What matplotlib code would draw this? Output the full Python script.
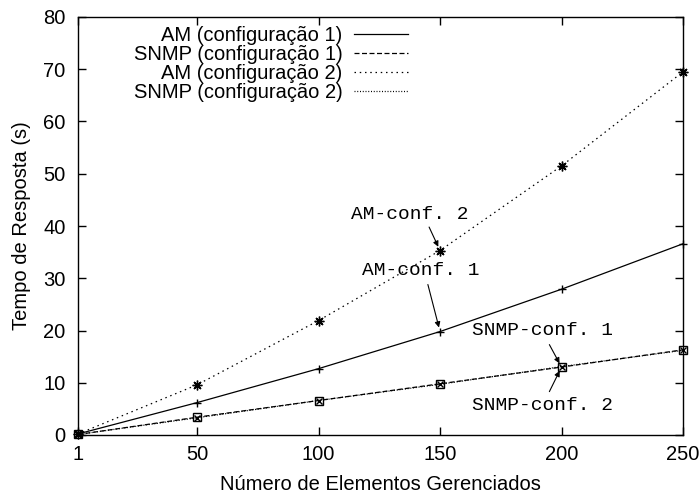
import matplotlib
matplotlib.use("Agg")
import matplotlib.pyplot as plt

plt.rcParams['font.family'] = ['Liberation Sans', 'DejaVu Sans']

elementos = [1, 50, 100, 150, 200, 250]
am_conf1 = [0.2, 6.2, 12.7, 19.8, 27.9, 36.6]
snmp_conf1 = [0.1, 3.4, 6.6, 9.8, 13.0, 16.3]
am_conf2 = [0.2, 9.6, 21.9, 35.3, 51.5, 69.5]
snmp_conf2 = [0.1, 3.3, 6.6, 9.7, 13.1, 16.2]

x_ticks = [1, 50, 100, 150, 200, 250]
y_ticks = [0, 10, 20, 30, 40, 50, 60, 70, 80]

fig = plt.figure(figsize=(7.0, 4.95), dpi=100)
ax = fig.add_axes([78 / 700, 1 - 435 / 495, 605 / 700, 418 / 495])

lw = 0.9
mk = dict(ls='none', color='black', clip_on=False, zorder=3)
l1, = ax.plot(elementos, am_conf1, color='black', lw=lw, ls='-')
ax.plot(elementos, am_conf1, marker='+', ms=6, mew=1.0, **mk)
l2, = ax.plot(elementos, snmp_conf1, color='black', lw=lw, ls=(0, (4, 2)))
ax.plot(elementos, snmp_conf1, marker='s', ms=6, mew=1.0, mfc='none', **mk)
l3, = ax.plot(elementos, am_conf2, color='black', lw=lw, ls=(0, (1.2, 3)))
ax.plot(elementos, am_conf2, marker=(8, 2, 0), ms=7, mew=1.0, **mk)
l4, = ax.plot(elementos, snmp_conf2, color='black', lw=lw, ls=(0, (0.8, 1.4)))
ax.plot(elementos, snmp_conf2, marker='x', ms=5, mew=1.0, **mk)

ax.set_xlim(1, 250)
ax.set_ylim(0, 80)
ax.set_xticks(x_ticks)
ax.set_yticks(y_ticks)
ax.tick_params(direction='in', length=6, width=1, top=True, right=True,
               labelsize=14.5)
ax.tick_params(axis='x', pad=7)
ax.tick_params(axis='y', pad=9)
for s in ax.spines.values():
    s.set_linewidth(1.0)

ax.set_xlabel('Número de Elementos Gerenciados', fontsize=14.5, labelpad=8)
ax.set_ylabel('Tempo de Resposta (s)', fontsize=14.5, labelpad=9)

leg = ax.legend([l1, l2, l3, l4],
                ['AM (configuração 1)', 'SNMP (configuração 1)',
                 'AM (configuração 2)', 'SNMP (configuração 2)'],
                markerfirst=False, frameon=False, fontsize=14.5,
                loc='upper right', bbox_to_anchor=(408 / 700, 1 - 26 / 495),
                bbox_transform=fig.transFigure, borderpad=0, borderaxespad=0,
                handlelength=2.7, handletextpad=0.55, labelspacing=0.0)

mono = dict(family=['Liberation Mono', 'DejaVu Sans Mono'], fontsize=14, va='center')
arrow = dict(arrowstyle='-|>', color='black', lw=0.8, shrinkA=0, shrinkB=3,
             mutation_scale=8)

ax.text(113.5, 42.2, 'AM-conf. 2', **mono)
ax.annotate('', xy=(150, 35.3), xytext=(145.5, 39.8), arrowprops=arrow)

ax.text(118.0, 31.5, 'AM-conf. 1', **mono)
ax.annotate('', xy=(150, 19.8), xytext=(145.0, 28.8), arrowprops=arrow)

ax.text(163.0, 20.0, 'SNMP-conf. 1', **mono)
ax.annotate('', xy=(200, 13.0), xytext=(195.0, 17.3), arrowprops=arrow)

ax.text(163.0, 5.6, 'SNMP-conf. 2', **mono)
ax.annotate('', xy=(200, 13.0), xytext=(195.0, 8.3), arrowprops=arrow)

fig.savefig('out.png', dpi=100)
